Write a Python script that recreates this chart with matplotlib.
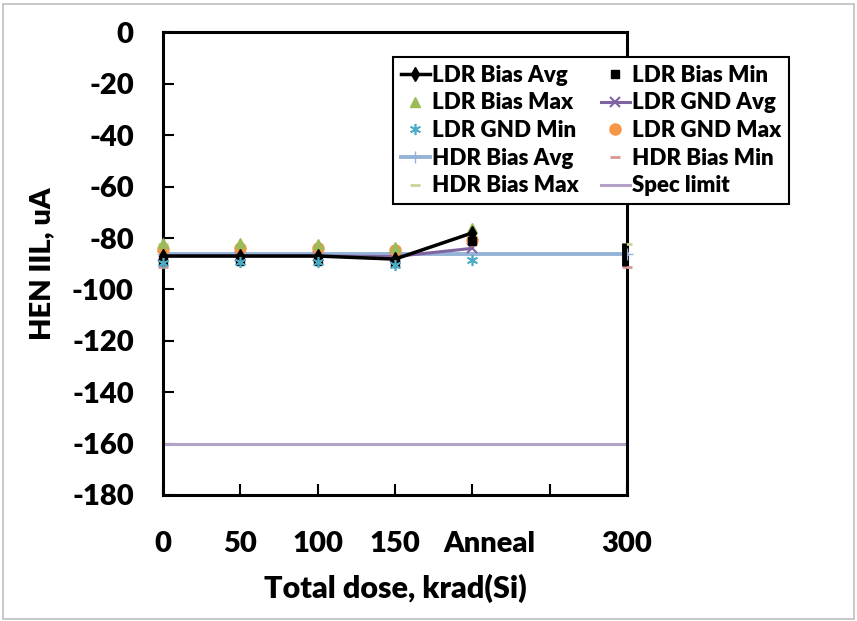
import numpy as np
import matplotlib
matplotlib.use("Agg")
import matplotlib.pyplot as plt
import matplotlib.transforms as mtransforms
from matplotlib.patches import Rectangle

plt.rcParams['font.family'] = ['Lato', 'DejaVu Sans']
plt.rcParams['font.weight'] = 'heavy'

# ── Data ───────────────────────────────────────────────────────
ldr_x = [0, 50, 100, 150, 200]           # 200 = "Anneal" position
ldr_bias_avg = [-87, -87, -87, -88.2, -78]
ldr_bias_min = [-89, -89, -89, -89.8, -81]
ldr_bias_max = [-82, -82, -82.5, -83.5, -76]
ldr_gnd_avg = [-87, -87, -87, -87.2, -84]
ldr_gnd_min = [-89.7, -89.5, -89.5, -90.4, -88.5]
ldr_gnd_max = [-84.2, -84, -84, -84.6, -80.7]

hdr_x = [0, 300]
hdr_bias_avg = [-86.1, -86.1]
hdr_bias_min = [-91.3, -91.3]
hdr_bias_max = [-82.3, -82.3]

spec_x = [0, 300]
spec_limit = [-160, -160]

# black range bar drawn at the final dose point
range_x = [298]
range_lo = [-91]
range_hi = [-82]

xtick_pos = [0, 50, 100, 150, 200, 250, 300]
xtick_labels = ["0", "50", "100", "150", "Anneal", "", "300"]
ytick_pos = np.arange(0, -181, -20)

# ── Plot ───────────────────────────────────────────────────────
fig = plt.figure(figsize=(8.57, 6.21), dpi=100)
ax = fig.add_axes([0.1902, 0.2029, 0.5414, 0.7448])

ax.plot(spec_x, spec_limit, color="#B3A2C7", lw=2.2, label="Spec limit", zorder=2)
ax.plot(hdr_x, hdr_bias_avg, color="#95B3D7", lw=2.8, marker="+", ms=9,
        label="HDR Bias Avg", zorder=3)
ax.plot(hdr_x, hdr_bias_min, ls="none", marker="_", ms=7, mew=2,
        color="#D99694", label="HDR Bias Min", zorder=4)
ax.plot(hdr_x, hdr_bias_max, ls="none", marker="_", ms=7, mew=2,
        color="#C3D69B", label="HDR Bias Max", zorder=4)
ax.vlines(range_x, range_lo, range_hi, color="black", lw=3.5, zorder=5)

ax.plot(ldr_x, ldr_gnd_avg, color="#8064A2", lw=2.2, marker="x", ms=7, mew=1.5,
        label="LDR GND Avg", zorder=4)
ax.plot(ldr_x, ldr_gnd_max, ls="none", marker="o", ms=8, color="#F79646",
        label="LDR GND Max", zorder=5)
ax.plot(ldr_x, ldr_bias_max, ls="none", marker="^", ms=7, color="#9BBB59",
        label="LDR Bias Max", zorder=5)
ax.plot(ldr_x, ldr_bias_min, ls="none", marker="s", ms=6, color="black",
        label="LDR Bias Min", zorder=6)
ax.plot(ldr_x, ldr_bias_avg, color="black", lw=2.5, marker="d", ms=7,
        label="LDR Bias Avg", zorder=7)
ax.plot(ldr_x, ldr_gnd_min, ls="none", marker=(6, 2, 0), ms=8, mew=1.2,
        color="#4BACC6", label="LDR GND Min", zorder=8)
for ln in ax.lines:
    ln.set_clip_on(False)

ax.set_xlim(0, 300)
ax.set_ylim(-180, 0)
ax.set_xticks(xtick_pos)
ax.set_xticklabels(xtick_labels)
ax.set_yticks(ytick_pos)
ax.set_yticklabels([str(v) for v in ytick_pos])
ax.tick_params(axis="both", direction="in", length=8, width=1.5,
               labelsize=21)
ax.tick_params(axis="y", pad=21)
ax.tick_params(axis="x", pad=26)
for t in ax.get_xticklabels() + ax.get_yticklabels():
    t.set_fontweight("heavy")
# "Anneal" sits a little right of its tick, as in the original
anneal = ax.get_xticklabels()[4]
anneal.set_transform(anneal.get_transform() +
                     mtransforms.ScaledTranslation(0.17, 0, fig.dpi_scale_trans))
for s in ax.spines.values():
    s.set_linewidth(2.2)

ax.set_xlabel("Total dose, krad(Si)", fontsize=22, fontweight="heavy", labelpad=12)
ax.set_ylabel("HEN IIL, uA", fontsize=21, fontweight="heavy", labelpad=12)

# legend in the original two-column order
order = ["LDR Bias Avg", "LDR Bias Max", "LDR GND Min", "HDR Bias Avg", "HDR Bias Max",
         "LDR Bias Min", "LDR GND Avg", "LDR GND Max", "HDR Bias Min", "Spec limit"]
handles, labels = ax.get_legend_handles_labels()
lookup = dict(zip(labels, handles))
leg = fig.legend([lookup[k] for k in order], order, ncol=2,
                 loc="upper left", bbox_to_anchor=(393 / 857, 1 - 57 / 621),
                 frameon=True, fancybox=False, edgecolor="black", framealpha=1,
                 prop={"size": 16, "weight": "heavy"}, handlelength=1.3,
                 handletextpad=0.1, columnspacing=1.0, labelspacing=0.3,
                 borderpad=0.35, borderaxespad=0)
leg.get_frame().set_linewidth(1.5)

fig.patches.append(Rectangle((0.004, 0.004), 0.992, 0.99, transform=fig.transFigure,
                             fill=False, edgecolor="#BFBFBF", lw=1.2))

fig.savefig("out.png", dpi=100)
